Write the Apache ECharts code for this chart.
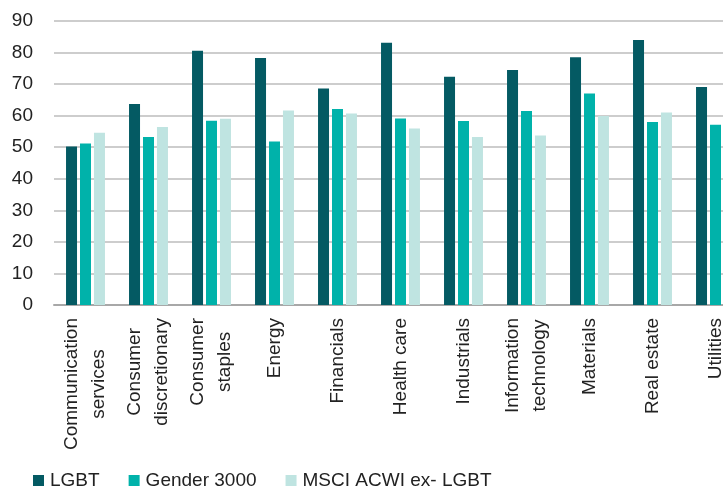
<!DOCTYPE html>
<html>
<head>
<meta charset="utf-8">
<script src="https://cdn.jsdelivr.net/npm/echarts@6/dist/echarts.min.js"></script>
<style>
html,body{margin:0;padding:0;background:#fff;overflow:hidden;width:723px;height:490px;}
#chart{width:760px;height:490px;}
</style>
</head>
<body>
<div id="chart"></div>
<script>
var categories = ['Communication\nservices', 'Consumer\ndiscretionary', 'Consumer\nstaples', 'Energy', 'Financials', 'Health care', 'Industrials', 'Information\ntechnology', 'Materials', 'Real estate', 'Utilities'];
var seriesNames = ['LGBT', 'Gender 3000', 'MSCI ACWI ex- LGBT'];
var lgbt = [50.2, 63.7, 80.6, 78.3, 68.6, 83.1, 72.3, 74.5, 78.5, 84.0, 69.1];
var gender3000 = [51.2, 53.2, 58.4, 51.8, 62.1, 59.1, 58.3, 61.5, 67.0, 58.0, 57.1];
var msciExLgbt = [54.6, 56.4, 59.0, 61.6, 60.7, 55.9, 53.2, 53.7, 59.9, 61.0, 60.0];
var yTicks = [0, 10, 20, 30, 40, 50, 60, 70, 80, 90];

var colors = ['#045a63', '#00b2aa', '#bfe4e1'];
var FONT = '"Liberation Sans", Arial, sans-serif';

var chart = echarts.init(document.getElementById('chart'), null, {renderer: 'canvas'});
var data = [lgbt, gender3000, msciExLgbt];
var series = seriesNames.map(function (n, i) {
  return {
    name: n,
    type: 'bar',
    data: data[i],
    barWidth: 11,
    barGap: '27%',
    itemStyle: {color: colors[i]},
    emphasis: {disabled: true}
  };
});

chart.setOption({
  animation: false,
  color: colors,
  textStyle: {fontFamily: FONT},
  grid: {left: 54, right: 13, top: 21, bottom: 185, containLabel: false},
  legend: {
    data: seriesNames,
    left: 33,
    top: 471,
    padding: 0,
    itemWidth: 11,
    itemHeight: 11,
    itemGap: 29,
    icon: 'rect',
    textStyle: {fontSize: 19, color: '#222', fontFamily: FONT, padding: [0, 0, 0, 1]}
  },
  xAxis: {
    type: 'category',
    data: categories,
    axisLine: {show: true, lineStyle: {color: '#a8a8a8', width: 2}},
    axisTick: {show: false},
    axisLabel: {
      interval: 0,
      rotate: 90,
      margin: 13,
      color: '#222',
      fontSize: 19,
      fontFamily: FONT,
      lineHeight: 27,
      formatter: function (v) {
        return v.split('\n').map(function (s) { return '{c|' + s + '}'; }).join('\n');
      },
      rich: {c: {align: 'center', fontSize: 19, lineHeight: 27, color: '#222', fontFamily: FONT}}
    }
  },
  yAxis: {
    type: 'value',
    min: yTicks[0],
    max: yTicks[yTicks.length - 1],
    interval: 10,
    axisLine: {show: false},
    axisTick: {show: false},
    axisLabel: {margin: 21, color: '#222', fontSize: 19, fontFamily: FONT},
    splitLine: {lineStyle: {color: '#bdbdbd', width: 1.5}}
  },
  series: series
});
</script>
</body>
</html>
